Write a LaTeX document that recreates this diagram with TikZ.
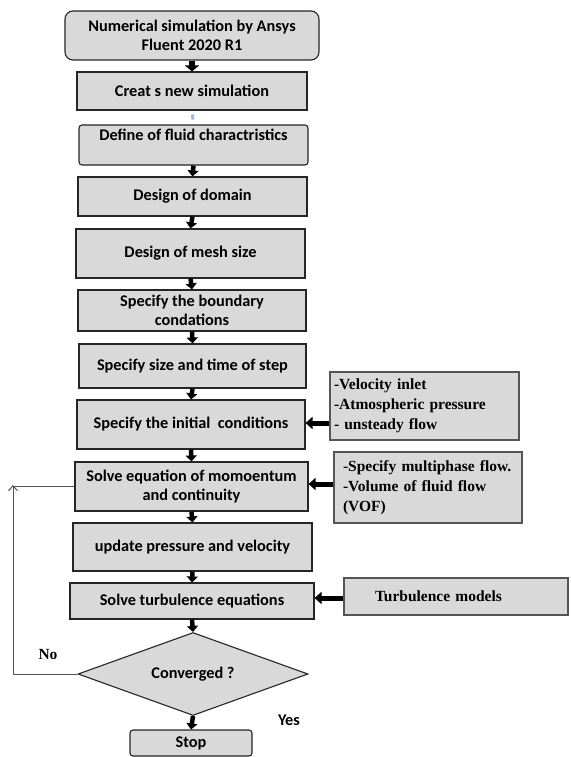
\documentclass[tikz,border=0pt]{standalone}
\usepackage{fontspec}
\setmainfont{Carlito}
\newfontfamily\timesfont{Liberation Serif}
\usetikzlibrary{shapes.geometric, arrows.meta}
\definecolor{boxgray}{HTML}{D9D9D9}
\definecolor{linegray}{HTML}{555555}
\definecolor{faintblue}{HTML}{9FB6E0}
\tikzset{
  stepbox/.style={draw=black!85, fill=boxgray, line width=1.1pt, align=center, inner sep=2pt,
    font=\fontsize{16.3}{19.5}\selectfont\bfseries},
  sidebox/.style={draw=linegray, fill=boxgray, line width=1.4pt, align=left,
    font=\fontsize{15.5}{20}\selectfont\timesfont\bfseries},
  downarrow/.style={line width=4.5pt, -{Triangle[length=6pt,width=11pt]}},
  sidearrow/.style={line width=5pt, -{Triangle[length=7pt,width=12pt]}},
  loopline/.style={draw=linegray, line width=1pt}
}
\begin{document}
\begin{tikzpicture}[x=1pt,y=-1pt]
\useasboundingbox (0,0) rectangle (570,757);
\node[stepbox, rounded corners=8pt, minimum width=254, minimum height=49] (b1) at (192,35.5) {Numerical simulation by Ansys\\Fluent 2020 R1};
\node[stepbox, minimum width=230, minimum height=38] (b2) at (192,91) {Creat s new simulation};
\node[stepbox, rounded corners=3pt, minimum width=229, minimum height=40] (b3) at (193.5,145) {Define of fluid charactristics\\\mbox{}};
\node[stepbox, minimum width=229, minimum height=39] (b4) at (192.5,196.5) {Design of domain};
\node[stepbox, minimum width=229, minimum height=49] (b5) at (190.5,253.5) {Design of mesh size};
\node[stepbox, minimum width=228, minimum height=41] (b6) at (192,310.5) {Specify the boundary\\condations};
\node[stepbox, minimum width=227, minimum height=44] (b7) at (192.5,366) {Specify size and time of step};
\node[stepbox, minimum width=228, minimum height=49] (b8) at (191,424.5) {Specify the initial\ \ conditions};
\node[stepbox, minimum width=233, minimum height=49] (b9) at (191.5,486.5) {Solve equation of momoentum\\and continuity};
\node[stepbox, minimum width=239, minimum height=48] (b10) at (192.5,547) {update pressure and velocity};
\node[stepbox, minimum width=244, minimum height=36] (b11) at (192,601) {Solve turbulence equations};
\node[stepbox, diamond, aspect=2.77, minimum width=230, minimum height=83, inner sep=0pt] (conv) at (193,674) {Converged ?};
\node[stepbox, rounded corners=3pt, minimum width=122, minimum height=26] (stop) at (191,743) {Stop};

\node[sidebox, text width=181, inner xsep=4pt, minimum height=68] (sa) at (424.5,406) {-Velocity inlet\\-Atmospheric pressure\\- unsteady flow};
\node[sidebox, text width=170, inner xsep=9pt, minimum height=71] (sb) at (428,487.5) {-Specify multiphase flow.\\-Volume of fluid flow\\(VOF)};
\node[sidebox, text width=162, inner xsep=31pt, minimum height=37] (sc) at (456,596.5) {Turbulence models};

\node[font=\fontsize{15.5}{19}\selectfont\timesfont\bfseries] (no) at (48,654) {No};
\node[font=\fontsize{16.3}{19}\selectfont\bfseries] (yes) at (289,720) {Yes};

\draw[line width=6.5pt, -{Triangle[length=6pt,width=14pt]}] (b1.south) -- (b2.north);
\draw[faintblue, line width=3pt, shorten <=4pt, shorten >=5pt] (b2.south) -- (b3.north);
\foreach \a/\b in {b3/b4,b4/b5,b5/b6,b6/b7,b7/b8,b8/b9,b9/b10,b10/b11,b11/conv,conv/stop}
  \draw[downarrow] (\a.south) -- (\b.north);

\draw[sidearrow] (sa.west |- 0,423) -- (b8.east |- 0,423);
\draw[sidearrow] (sb.west |- 0,484) -- (b9.east |- 0,484);
\draw[sidearrow] (sc.west |- 0,598) -- (b11.east |- 0,598);

\coordinate (lp) at (13,486);
\coordinate (lq) at (13,674);
\draw[loopline, -{Straight Barb[length=5pt,width=9pt]}] (conv.west) -- (lq) -- ([yshift=1pt]lp);
\draw[loopline] (b9.west |- lp) -- (lp);
\end{tikzpicture}
\end{document}
